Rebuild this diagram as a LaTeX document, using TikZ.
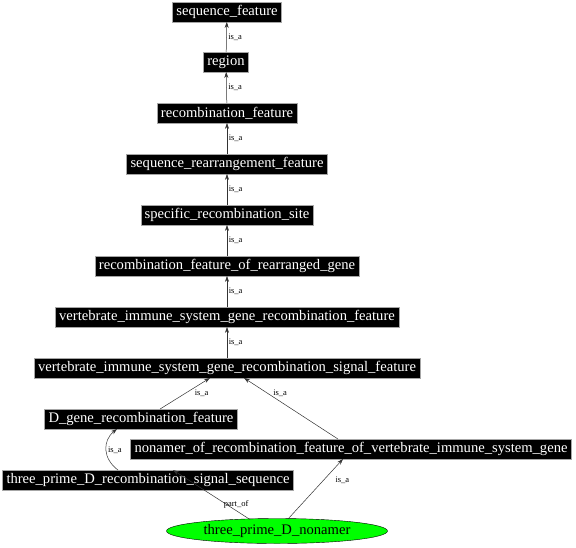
\documentclass[tikz,border=0pt]{standalone}
\usepackage{fontspec}
\setmainfont{Liberation Serif}
\usetikzlibrary{arrows.meta,shapes.geometric}
\begin{document}
\begin{tikzpicture}[x=1pt,y=-1pt,
  term/.style={fill=black,draw=gray!70,text=white,font=\fontsize{14.6}{15}\selectfont,inner xsep=4pt,inner ysep=0pt,minimum height=19.5pt},
  edge/.style={draw=black!80,line width=0.5pt,-{Stealth[length=6pt,width=4pt]}},
  lab/.style={font=\fontsize{8.5}{9}\selectfont,inner sep=1.5pt}]
\useasboundingbox (0,0) rectangle (576,547);
\node[term] (sf) at (227,12) {sequence\_feature};
\node[term] (reg) at (226,62) {region};
\node[term] (rf) at (227,113) {recombination\_feature};
\node[term] (srf) at (227,164) {sequence\_rearrangement\_feature};
\node[term] (srs) at (227,215) {specific\_recombination\_site};
\node[term] (rfrg) at (227,266) {recombination\_feature\_of\_rearranged\_gene};
\node[term] (visgrf) at (227,317) {vertebrate\_immune\_system\_gene\_recombination\_feature};
\node[term] (visgrsf) at (227,368) {vertebrate\_immune\_system\_gene\_recombination\_signal\_feature};
\node[term] (dg) at (141,419) {D\_gene\_recombination\_feature};
\node[term] (non) at (351,449) {nonamer\_of\_recombination\_feature\_of\_vertebrate\_immune\_system\_gene};
\node[term] (tpd) at (148,480) {three\_prime\_D\_recombination\_signal\_sequence};
\node[ellipse,fill=green,draw=black,minimum width=221pt,minimum height=25pt,inner sep=0pt,font=\fontsize{14.6}{15}\selectfont] (tpn) at (277,531) {three\_prime\_D\_nonamer};

\draw[edge] (reg) -- node[lab,right]{is\_a} (sf);
\draw[edge] (rf) -- node[lab,right]{is\_a} (reg);
\draw[edge] (srf) -- node[lab,right]{is\_a} (rf);
\draw[edge] (srs) -- node[lab,right]{is\_a} (srf);
\draw[edge] (rfrg) -- node[lab,right]{is\_a} (srs);
\draw[edge] (visgrf) -- node[lab,right]{is\_a} (rfrg);
\draw[edge] (visgrsf) -- node[lab,right]{is\_a} (visgrf);
\coordinate (dgs) at (dg.north -| 160,0);
\coordinate (vt1) at (visgrsf.south -| 210,0);
\coordinate (vt2) at (visgrsf.south -| 244,0);
\coordinate (nont) at (non.north -| 338,0);
\coordinate (nonb) at (non.south -| 343,0);
\coordinate (tpdt) at (tpd.north -| 118,0);
\coordinate (tpdt2) at (tpd.north -| 173,0);
\coordinate (dgb) at (dg.south -| 117,0);
\coordinate (tpn1) at (250,519.5);
\coordinate (tpn2) at (288,519);
\draw[edge] (dgs) -- node[lab,pos=0.5,right,xshift=8pt]{is\_a} (vt1);
\draw[edge] (nont) -- node[lab,pos=0.75,right,xshift=4pt]{is\_a} (vt2);
\draw[edge] (tpdt) .. controls (103,459) and (102,441) .. node[lab,right,pos=0.5]{is\_a} (dgb);
\draw[edge] (tpn1) -- node[lab,above,pos=0.18,yshift=1pt]{part\_of} (tpdt2);
\draw[edge] (tpn2) -- node[lab,right,pos=0.65,xshift=10pt]{is\_a} (nonb);
\end{tikzpicture}
\end{document}
